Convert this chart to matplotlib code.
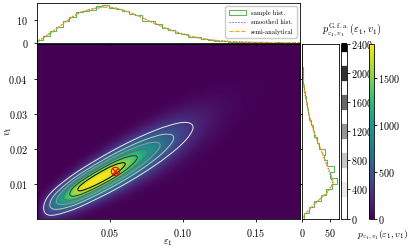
import numpy as np
import matplotlib
matplotlib.use("Agg")
import matplotlib.pyplot as plt

plt.rcParams["font.family"] = "serif"
plt.rcParams["font.serif"] = ["cmr10"]
plt.rcParams["mathtext.fontset"] = "cm"
plt.rcParams["axes.formatter.use_mathtext"] = True
plt.rcParams["font.size"] = 7.3
plt.rcParams["axes.linewidth"] = 0.6
for a in ("xtick", "ytick"):
    plt.rcParams[a + ".major.size"] = 2.5
    plt.rcParams[a + ".major.width"] = 0.6

# eps_1 marginal (top panel)
eps_grid = [0, .005, .01, .015, .02, .025, .03, .035, .04, .045, .05, .055, .06,
            .065, .07, .075, .08, .085, .09, .095, .10, .105, .11, .115, .12,
            .125, .13, .135, .14, .145, .15, .16, .17, .18]
eps_semi = [0, 2.0, 4.4, 6.7, 9.0, 11.6, 13.3, 14.3, 15.0, 15.4, 15.5, 15.0, 14.1,
            12.9, 11.6, 10.1, 8.6, 7.3, 5.9, 4.8, 3.8, 2.9, 2.2, 1.6, 1.2,
            0.85, 0.6, 0.4, 0.28, 0.2, 0.14, 0.07, 0.03, 0.01]
eps_smooth = [0.3, 2.4, 4.6, 6.8, 9.1, 11.5, 13.2, 14.2, 15.0, 15.5, 15.5, 15.0, 14.0,
              12.9, 11.5, 10.1, 8.6, 7.2, 5.9, 4.8, 3.8, 2.9, 2.2, 1.6, 1.2,
              0.85, 0.6, 0.4, 0.28, 0.2, 0.14, 0.07, 0.03, 0.01]
eps_hist = [1.0, 3.0, 5.2, 6.8, 9.4, 11.2, 13.4, 13.8, 14.2, 16.0,
            16.5, 15.2, 14.6, 14.0, 12.4, 11.9, 9.6, 9.4, 8.0, 6.2,
            5.6, 4.2, 3.8, 2.6, 2.3, 1.5, 1.3, 0.9, 0.6, 0.5,
            0.4, 0.2, 0.2, 0.1, 0.1, 0.0, 0.1, 0.0, 0.0, 0.0]

# v_1 marginal (right panel)
v_grid = [0, .0025, .005, .0075, .01, .0125, .015, .0175, .02, .0225, .025,
          .0275, .03, .0325, .035, .0375, .04, .0425, .045, .05]
v_semi = [0, 12, 28, 44, 55.5, 52, 45, 39, 33, 26, 21,
          16, 12, 9, 6, 3.5, 2, 0.8, 0.3, 0]
v_smooth = [0.5, 12.5, 28, 45, 54.5, 50.5, 45, 39, 32.5, 26.5, 21,
            16, 12, 9, 6, 3.5, 2, 0.8, 0.3, 0]
v_hist = [4, 13, 22, 34, 42, 53, 62, 50, 57, 44,
          39, 40, 31, 27, 22, 19, 16, 13, 11, 9,
          7, 5, 3.5, 2.5, 1.7, 0.9, 0.5, 0.2, 0.1, 0.0]

# joint density: ridge v = icpt + slope*eps, width grows with eps
ridge_icpt, ridge_slope = 0.0019, 0.2266
true_w0, true_w1 = 0.0024, 0.02
gfa_w0, gfa_w1, gfa_amp = 0.0025, 0.0085, 1.30
gfa_levels = [0, 400, 800, 1200, 1600, 2000, 2400]
mode_eps, mode_v = [0.0533], [0.0137]

eps_edges = np.linspace(0, 0.18, len(eps_hist) + 1)
v_edges = np.linspace(0, 0.05, len(v_hist) + 1)

E, V = np.meshgrid(np.linspace(0, 0.18, 400), np.linspace(0, 0.05, 250))
p_eps = np.interp(E, eps_grid, eps_semi)
mu = ridge_icpt + ridge_slope * E


def cond(s):
    return np.exp(-0.5 * ((V - mu) / s) ** 2) / (np.sqrt(2 * np.pi) * s)


P_true = p_eps * cond(true_w0 + true_w1 * E)
# tiny floor so the zero level is never crossed inside the plot
P_gfa = gfa_amp * p_eps * cond(gfa_w0 + gfa_w1 * E) + 1e-9

W, H = 411, 248
fig = plt.figure(figsize=(W / 100, H / 100), dpi=100)


def box(l, t, r, b):
    return [l / W, 1 - b / H, (r - l) / W, (b - t) / H]


ax = fig.add_axes(box(36.5, 44, 300, 218.5))
ax_top = fig.add_axes(box(36.5, 3, 300, 42.7), sharex=ax)
ax_r = fig.add_axes(box(302, 44, 338.7, 218.5), sharey=ax)
cax_g = fig.add_axes(box(340.5, 44, 346.5, 218.5))
cax_v = fig.add_axes(box(369, 44, 374, 218.5))

im = ax.imshow(P_true, extent=[0, 0.18, 0, 0.05], origin="lower", aspect="auto",
               cmap="viridis", vmin=0, interpolation="bilinear")
cs = ax.contour(E, V, P_gfa, levels=gfa_levels, cmap="Greys", vmin=0, vmax=2400,
                linewidths=0.7)
ax.plot(mode_eps, mode_v, "o", mfc="none", mec="red", ms=6, mew=0.8)
ax.plot(mode_eps, mode_v, "x", color="red", ms=4, mew=0.8)
ax.set_xlim(0, 0.18)
ax.set_ylim(0, 0.05)
ax.set_xticks([0.05, 0.10, 0.15])
ax.set_yticks([0.01, 0.02, 0.03, 0.04])
ax.set_xlabel(r"$\varepsilon_1$")
ax.set_ylabel(r"$v_1$")
ax.xaxis.set_label_coords(0.5, -0.105)
ax.yaxis.set_label_coords(-0.085, 0.5)

# top marginal
ax_top.hist(eps_edges[:-1], bins=eps_edges, weights=eps_hist, histtype="step",
            color="#5cb85c", lw=0.8, label="sample hist.")
ax_top.plot(eps_grid, eps_smooth, ":", color="#4444ff", lw=0.8, label="smoothed hist.")
ax_top.plot(eps_grid, eps_semi, "--", color="orange", lw=0.8, label="semi-analytical")
ax_top.set_yticks([0, 10])
ax_top.tick_params(labelbottom=False)
ax_top.legend(loc="upper right", fontsize=4.7, handlelength=2.6, borderpad=0.5,
              labelspacing=0.55, framealpha=1, edgecolor="#cccccc", fancybox=True)

# right marginal
ax_r.hist(v_edges[:-1], bins=v_edges, weights=v_hist, histtype="step",
          orientation="horizontal", color="#5cb85c", lw=0.8)
ax_r.plot(v_smooth, v_grid, ":", color="#4444ff", lw=0.8)
ax_r.plot(v_semi, v_grid, "--", color="orange", lw=0.8)
ax_r.set_xticks([0, 50])
ax_r.tick_params(labelleft=False)

# colorbars
cb_g = fig.colorbar(cs, cax=cax_g)
for lc in cb_g.lines:
    lc.set_linewidth(11)
cax_g.tick_params(length=2, pad=1)
cb_v = fig.colorbar(im, cax=cax_v)
cb_v.set_ticks([0, 500, 1000, 1500])
cax_v.tick_params(length=2, pad=1)
cb_v.outline.set_linewidth(0.6)
cb_g.outline.set_linewidth(0.6)

fig.text(352 / W, 1 - 30 / H, r"$p^{\mathrm{G.f.a.}}_{\varepsilon_1,v_1}(\varepsilon_1,v_1)$",
         ha="center", va="center", fontsize=7.3)
fig.text(383 / W, 1 - 235 / H, r"$p_{\varepsilon_1,v_1}(\varepsilon_1,v_1)$",
         ha="center", va="center", fontsize=7)

fig.savefig("out.png", dpi=100)
